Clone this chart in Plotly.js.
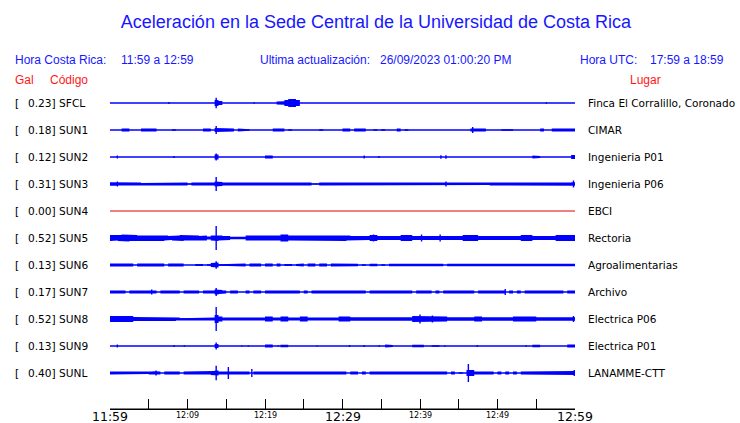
<!DOCTYPE html>
<html><head><meta charset="utf-8">
<script src="https://cdn.plot.ly/plotly-3.0.1.min.js"></script>
<style>html,body{margin:0;padding:0;background:#fff}#chart{width:740px;height:423px}</style>
</head><body><div id="chart"></div>
<script>
// ---- data ----
const stationCodes = ['SFCL','SUN1','SUN2','SUN3','SUN4','SUN5','SUN6','SUN7','SUN8','SUN9','SUNL'];
const stationPlaces = ['Finca El Corralillo, Coronado','CIMAR','Ingenieria P01','Ingenieria P06','EBCI','Rectoria','Agroalimentarias','Archivo','Electrica P06','Electrica P01','LANAMME-CTT'];
const peakGal = [0.23,0.18,0.12,0.31,0.00,0.52,0.13,0.17,0.52,0.13,0.40];

// envelope (half amplitude) per half-minute, 11:59 -> 12:59
const envSFCL = [0,0,0,0,0,0,0,0,0,0, 0,0,0,0,0,0,0,0,0,0, 0,0,0,0,0,0,0,3,2,0, 0,0,0,0,0,0,0,0,0,0,
 0,0,0,1.5,1.7,3,4,4,3,0, 0,0,0,0,0,0,0,0,0,0, 0,0,0,0,0,0,0,0,0,0, 0,0,0,0,0,0,0,0,0,0,
 0,0,0,0,0,0,0,0,0,0, 0,0,0,0,0,0,0,0,0,0, 0,0,0,0,0,0,0,0,0,0, 0,0,0,0,0,0,0,0,0,0];
const envSUN1 = [0,0,0,1.5,1.5,0,0,0,1.5,1.5, 1.5,1.5,0,0,0,0,0.8,0,0,0, 0,0,0,0,1.5,1.5,0,2,1.5,1.5, 1.5,1.5,0,1.5,0.8,0.8,0,0,0,0,
 0,0,1.5,1.5,1.5,0,0.8,0,0,0, 0,0,0,0,0.8,0,0,0,0,0, 1.5,1.5,0,1.5,1.5,1.5,0,0,0.8,0, 0.8,0,0,0,1.5,0,0.8,0,0,0,
 0,0,0,0,0,0,0,0,0,0, 0,0,0,1.5,1.5,1.5,1.5,0,0,0, 0,0.8,0.8,0.8,0,0,0,0,0,0, 0,1.5,0,0,1.5,1.5,1.5,1.5,1.5,1.5];
const envSUN2 = [0,0,0,0,0,0,0,0,0,0, 0,0,0,0,0,0,0,0,0,0, 0,0,0,0,0,0,0,2.5,0,0, 0,0,0,0,0,0,0,0,0,0,
 1.5,1.5,0,0,0,0,0,0,0,0, 0,0,0,0,0,0,0,0,0,0, 0,0,0,0,0,0,0,0,0,0, 0,0,0,0,0,0,0,0,0,0,
 0,0,0,0,0,0,0,0,0,0, 0,0,0,0,0,0,0,0,0,0, 0,0,0,0,0,0,0,0,0,1.5, 1,0,0,0,0,0,0,0,0,2];
const envSUN3 = [1.8,1.8,1.5,1.5,1.5,1.5,1.5,1.5,1,1.5, 1.5,1.5,1.5,1.5,1.5,1.5,1.5,1.5,1.5,1.5, 0.5,1.5,1.5,1.5,1,1.5,1.5,2.5,2,1.5, 1.5,1.5,1.5,1,1.5,1.5,1.5,1,1.5,1.5,
 1.5,1.5,1.5,1.5,1,1.5,1.5,1.5,1.5,1.5, 1.5,1.5,0.6,0.6,1.5,1,1.5,1,1.5,1.5, 1.5,1.5,1.5,1.5,1.5,1.5,1.5,1.5,1.5,1.5, 1,1.5,1.5,1.5,1.5,1.5,1.5,1.5,1.5,1.5,
 1.5,1.5,1,1.5,1.5,1.5,1.5,1.5,1,1.5, 1,1.5,1.5,1.5,1.5,1.5,1.5,1,1.5,1.5, 1.5,1.5,1.5,1.5,1.5,1.5,1.5,1.5,1.5,1.5, 1.5,1.5,1.5,1.5,1.5,1.5,1.5,1.5,1.5,1.8];
const envSUN4 = [0,0,0,0,0,0,0,0,0,0, 0,0,0,0,0,0,0,0,0,0, 0,0,0,0,0,0,0,0,0,0, 0,0,0,0,0,0,0,0,0,0,
 0,0,0,0,0,0,0,0,0,0, 0,0,0,0,0,0,0,0,0,0, 0,0,0,0,0,0,0,0,0,0, 0,0,0,0,0,0,0,0,0,0,
 0,0,0,0,0,0,0,0,0,0, 0,0,0,0,0,0,0,0,0,0, 0,0,0,0,0,0,0,0,0,0, 0,0,0,0,0,0,0,0,0,0];
const envSUN5 = [3,2.5,3,3.5,3.5,3,3,2.5,2.5,2.5, 3,2.5,2.5,3,2.5,2,2.5,2.5,3,2.5, 2.5,2.5,2.5,2,2.5,1.5,2.5,3,2.5,2, 2,1.2,1.2,1.2,1.2,2.5,3,2.5,2.5,2.5,
 2.5,2.5,2.5,2.5,3.5,3.5,2.5,2.5,2.5,2.5, 2.5,2.5,3,2.5,2.5,3,2.5,2.5,2.5,3, 3,2.5,2,2,2,2,2,3,3,2, 2,2,2,2,2,3,3,3,2,2,
 2,2,2,2,2,2,2,2,2,2, 2,3,3,3,3,2,2,2,2,2, 2,2,2,2,2,2,3,3,3,2, 2,2,2,2,2,3,3,3,3,3];
const envSUN6 = [1.5,1.5,1.5,1.5,1.5,1.5,0,1.5,1.5,1.5, 1.5,1.5,1.5,1.5,0,1.5,1.5,1.5,1.5,0, 0,0,1,1,0,0.8,2,2.5,0.8,0.8, 0.8,1.5,1.5,1.5,1.5,0,1.5,1.5,1.5,0,
 1.5,1.5,0,1.5,0,1,1,0,1,1.5, 0,1.5,1.5,0,1.5,1.5,0,1.5,1.5,1.2, 1.2,1.2,1.2,1.2,0,0.8,0,1.2,1.2,0, 0.8,0,1.2,1.2,0.8,1.2,1.2,0.8,1.2,1.2,
 0.6,1.2,1.2,1.2,1.2,1.2,0,1.2,1.2,1.2, 1.2,1.2,1.2,1.2,1.2,1.2,1.2,1.2,1.2,1.2, 0.8,1.2,1.2,1.2,1.2,1.2,1.2,1.2,1.2,1.2, 1.2,1.2,1.2,1.2,1.2,1.2,1.2,1.2,1.2,1.2];
const envSUN7 = [1.5,1.5,1.5,1.5,0,1.5,1.5,1.5,1.5,1.5, 1.8,1.5,0,1.5,1.5,1.5,1.5,1.5,0,1.5, 1.5,1.5,1.5,0,1.5,1.5,1.5,2.5,2,1.5, 0,1.5,1.5,0,0,1.5,0,1.5,1.5,0,
 1.5,1.5,1.5,1.5,1.5,1.5,1.5,1.5,1.5,0, 1.5,0,1.5,1.5,1.5,1.5,1.5,1.5,1.5,1.5, 1.5,1.5,1.5,1.5,1,1.5,0,1.5,1.5,1.5, 1.5,1.5,1.5,1.5,1.5,1.5,1.5,1.5,0,1.5,
 1.5,1.5,1.5,0,1.5,0,1.5,1.5,1.5,1.5, 1.5,1.5,1.5,1.5,0,1.5,1.5,1.5,1.5,1.5, 1.5,1.5,0,1.5,0,1.5,0,1.5,1.5,1.5, 1.5,1.5,1.5,1.5,1.5,1.5,1.5,0,1.5,1.5];
const envSUN8 = [3,3,3.5,3.5,3,3,2,2,2,2, 2,2,2,2,2,2,2,1.5,0.8,1.5, 1,1.5,1.5,1.5,1.5,1.5,1.5,4,2.5,1.5, 1.5,1.5,1.5,1,1.5,1.5,1.5,1.5,1.5,1.5,
 2.5,2.5,1.5,1.5,2.5,2.5,1.5,1.5,1.5,2.5, 2.5,1.5,1.5,1.5,1.5,1.5,1.5,1.5,1.5,2.5, 2.5,2.5,1.7,1.7,1.7,1.7,1.7,1.7,1.7,1.7, 1.7,2,2,1.7,1.7,1.7,1.7,1.7,3,3,
 3,3,3,2.5,2.5,2.5,2.5,1.7,1.7,1.7, 1.7,1.7,1.7,1.7,2.5,2.5,1.7,1.7,1.7,1.7, 1.7,1.7,1.7,1.7,2.5,2.5,2.5,2.5,2.5,2.5, 1.7,1.7,1.7,1.7,1.7,1.7,1.7,1.7,1.7,1.7];
const envSUN9 = [0,0,0,0,0,0,0,0,0,0, 0,0,0,0,0,0,0,0,0,0, 0,0,0,0,0,0,0,2,0,0, 0,0,0,0,0,0,0,0,0,0,
 1.5,1.5,0,0,1.2,1.2,0,0,0,0, 0,0,0,0,0,0,0,0,0,0, 0,0,0,0,0,0,0,0,0,0, 0,1.5,1,0,0,0,0,0,1.2,1.2,
 1.2,0,0,0.8,0.8,0,0,0,0,0, 0,0,0,0,0,0,0,0,0,0, 0,0,0,0,0,0,0,0,0,1.2, 1.2,0,0,0,0,0,0,0,1.5,1.5];
const envSUNL = [1.5,1.5,1.5,1.5,1.5,1.5,1.5,1.5,1.5,1, 1.5,1.8,1.5,0,1.5,1.5,1.5,1.5,0,1.5, 1.5,1.5,1.5,1.5,1.5,1.5,2,2.5,1.5,1.5, 2.2,2,2,2,2,1.5,0,1.5,1.5,1.5,
 1.5,1.5,1.5,1.5,1.5,1.5,1.5,1.5,1.5,1.5, 1.5,1.5,1.5,1.5,1.5,1.5,1.5,1.5,1.5,1.5, 1.5,0,1.5,1.5,0,1.5,0,1.5,1.5,0.8, 1.5,1.5,1.5,1.5,1.5,1.5,1.5,1.5,0.8,1.5,
 1.5,1.5,1.5,1.5,1.5,1.5,1.5,0,1.5,0, 0.8,0,3,3,1.5,1.5,1.5,1.5,1.5,0, 1.5,0,1.5,0,1.5,0,1.5,1.5,1.5,1.5, 1.5,1.5,1.5,1.5,1.5,1.5,2,2,2,2];

// isolated spikes: [minute after 11:59, half amplitude]
const spikesSFCL = [[13.7,5.3],[7.6,1],[18.6,0.8],[56.3,0.8]];
const spikesSUN1 = [[13.7,4],[46.8,3]];
const spikesSUN2 = [[13.7,3.5],[0.95,1.5],[8.26,1],[32.8,1.5],[34.7,1],[42.7,1.8],[43.35,1.8]];
const spikesSUN3 = [[13.7,7],[0.95,2.5],[43.35,2.5],[59.8,3.5]];
const spikesSUN4 = [];
const spikesSUN5 = [[13.7,12],[34,3.5],[40.2,3.5],[42.6,3.5]];
const spikesSUN6 = [[13.7,3.7]];
const spikesSUN7 = [[13.7,4],[5.38,2.5],[51,3]];
const spikesSUN8 = [[13.7,12],[40,4.5],[41.6,3.5],[59.8,3]];
const spikesSUN9 = [[13.7,3.5],[0.95,1.5],[8.26,1],[9.6,0.8],[17,0.6],[17.85,0.6],[21.7,0.8],[26.75,0.5],[30.9,1],[32.8,1],[34.75,0.8],[43.2,0.8],[47.4,1],[53.7,0.8]];
const spikesSUNL = [[13.7,7.3],[5.94,2.5],[15.27,6],[18.3,4],[46.24,9],[59.9,3]];

const tickMinutes = [0,10,20,30,40,50,60];
const tickLabels = ['11:59','12:09','12:19','12:29','12:39','12:49','12:59'];
const majorTickLabels = ['11:59','12:29','12:59'];

// ---- drawing ----
const envs = [envSFCL,envSUN1,envSUN2,envSUN3,envSUN4,envSUN5,envSUN6,envSUN7,envSUN8,envSUN9,envSUNL];
const spikes = [spikesSFCL,spikesSUN1,spikesSUN2,spikesSUN3,spikesSUN4,spikesSUN5,spikesSUN6,spikesSUN7,spikesSUN8,spikesSUN9,spikesSUNL];

const W = 740, H = 423;
const L = 110, R = 575, T = 89, B = 409;
const PH = B - T;
const rowTop = 14, rowGap = 27;
const BLUE = '#0000ff', TXTBLUE = '#1717ff', TXTRED = '#ff1717';

const traces = [];
envs.forEach((env, i) => {
  const off = -(rowTop + rowGap * i);
  const isRed = stationCodes[i] === 'SUN4';
  const col = isRed ? '#e00000' : BLUE;
  const w = 60 / env.length;
  const xs = [], ys = [];
  for (let b = 0; b < env.length; b++) { xs.push(b*w, (b+1)*w); ys.push(off+env[b], off+env[b]); }
  for (let b = env.length-1; b >= 0; b--) { xs.push((b+1)*w, b*w); ys.push(off-env[b], off-env[b]); }
  traces.push({x: xs, y: ys, type:'scatter', mode:'lines', fill:'toself', fillcolor: col,
    line:{width:0, color: col}, hoverinfo:'skip', showlegend:false});
  traces.push({x:[0,60], y:[off,off], type:'scatter', mode:'lines', line:{width: isRed ? 1 : 1.3, color: col}, hoverinfo:'skip', showlegend:false});
  if (spikes[i].length) {
    const sx = [], sy = [];
    spikes[i].forEach(([t,a]) => { sx.push(t,t,null); sy.push(off-a, off+a, null); });
    traces.push({x: sx, y: sy, type:'scatter', mode:'lines', line:{width:1.4, color: col}, hoverinfo:'skip', showlegend:false});
  }
});

const xp = px => (px - L) / (R - L);
const yp = py => (B - py) / PH;
const ann = [];
function txt(text, px, py, size, color, family, anchor) {
  ann.push({text, x: xp(px), y: yp(py), xref:'paper', yref:'paper', xanchor: anchor||'left', yanchor:'middle',
    showarrow:false, borderpad:0, font:{size, color, family}});
}
const SANS = 'Liberation Sans, Arial, sans-serif';
const DJ = 'DejaVu Sans, sans-serif';
txt('Hora Costa Rica:', 14, 60, 12, TXTBLUE, SANS);
txt('11:59 a 12:59', 120, 60, 12, TXTBLUE, SANS);
txt('Ultima actualización:', 259, 60, 12, TXTBLUE, SANS);
txt('26/09/2023 01:00:20 PM', 379, 60, 12, TXTBLUE, SANS);
txt('Hora UTC:', 579, 60, 12, TXTBLUE, SANS);
txt('17:59 a 18:59', 649, 60, 12, TXTBLUE, SANS);
txt('Gal', 14, 80, 12, TXTRED, SANS);
txt('Código', 49, 80, 12, TXTRED, SANS);
txt('Lugar', 629, 80, 12, TXTRED, SANS);

stationCodes.forEach((c, i) => {
  const py = T + rowTop + rowGap * i;
  txt('[', 14, py, 10.6, '#000', DJ);
  txt(peakGal[i].toFixed(2) + '] ' + c, 26.5, py, 10.6, '#000', DJ);
  txt(stationPlaces[i], 586.5, py, 10.5, '#000', DJ);
});

tickMinutes.forEach((m, k) => {
  const big = majorTickLabels.includes(tickLabels[k]);
  ann.push({text: tickLabels[k], x: m, xref:'x', y: yp(big ? 416.5 : 415.5), yref:'paper', xanchor:'center', yanchor:'middle',
    showarrow:false, borderpad:0, font:{size: big ? 12.5 : 8, color:'#000', family: DJ}});
});

const layout = {
  width: W, height: H,
  margin: {l: L, r: W - R, t: T, b: H - B, pad: 0},
  paper_bgcolor:'#fff', plot_bgcolor:'#fff',
  title: {text:'Aceleración en la Sede Central de la Universidad de Costa Rica', x: 376/W, xref:'container', xanchor:'center',
    y: 1 - 22/H, yref:'container', yanchor:'middle', font:{size:18, color: TXTBLUE, family: SANS}},
  xaxis: {range:[0,60], tick0:0, dtick:5, ticks:'inside', ticklen:10, tickwidth:1, tickcolor:'#000',
    showline:true, linecolor:'#000', linewidth:1, showgrid:false, zeroline:false,
    showticklabels:false, fixedrange:true},
  yaxis: {range:[-PH, 0], showline:false, showticklabels:false, ticks:'', showgrid:false, zeroline:false, fixedrange:true},
  shapes: [{type:'line', xref:'paper', x0:0, x1:1, yref:'paper', y0:0, y1:0, line:{color:'#000', width:1.2}}],
  annotations: ann,
  showlegend:false
};
Plotly.newPlot('chart', traces, layout, {staticPlot:true, displayModeBar:false});
</script>
</body></html>
